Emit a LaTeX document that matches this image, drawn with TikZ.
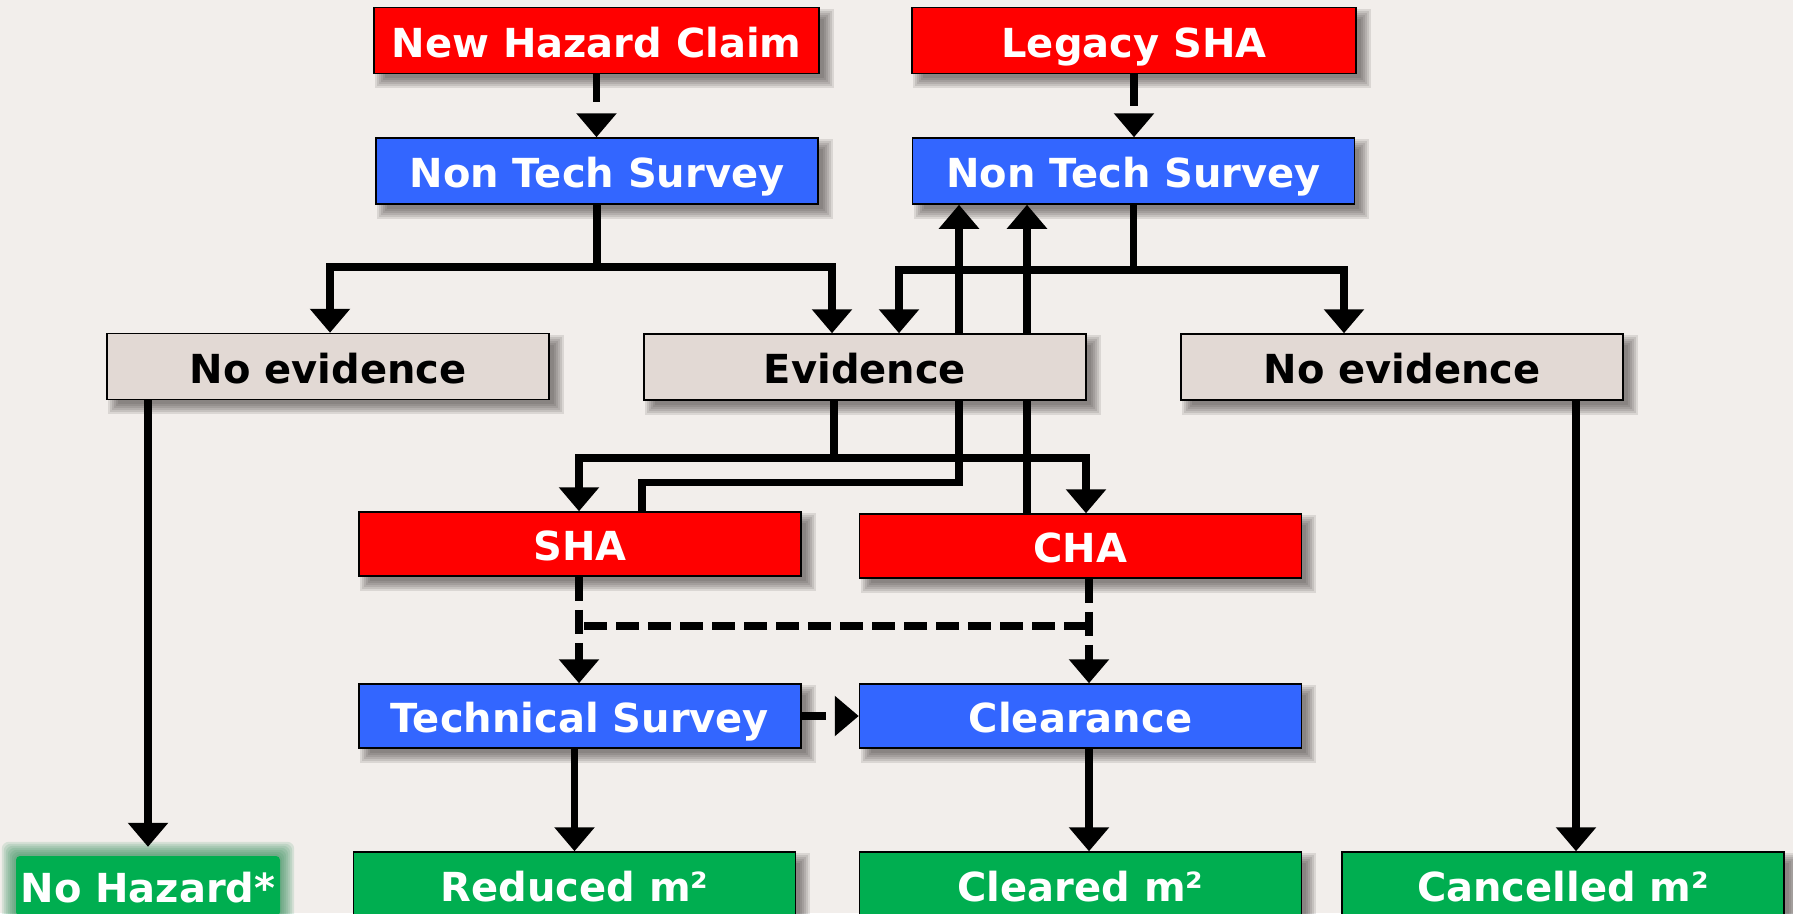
\documentclass[tikz,border=0pt]{standalone}
\usepackage{fontspec}
\setmainfont{DejaVu Sans}
\usetikzlibrary{arrows.meta,calc}
\definecolor{bgc}{HTML}{F2EEEB}
\definecolor{cred}{HTML}{FF0000}
\definecolor{cblue}{HTML}{3366FF}
\definecolor{cgray}{HTML}{E2D9D4}
\definecolor{cgreen}{HTML}{00AE50}
\definecolor{glowc}{HTML}{2E8B57}
\definecolor{shc}{HTML}{3A3533}
\pgfdeclarelayer{bgl}
\pgfdeclarelayer{shl}
\pgfdeclarelayer{edges}
\pgfsetlayers{bgl,shl,edges,main}
\begin{document}
\begin{tikzpicture}[x=1pt,y=-1pt,
  box/.style={draw=black, line width=1.5pt, minimum width=442pt, minimum height=66pt,
    inner sep=0pt, text height=35pt, text depth=2pt,
    font=\fontsize{40pt}{48pt}\selectfont\bfseries},
  redbox/.style={box, fill=cred, text=white},
  bluebox/.style={box, fill=cblue, text=white},
  graybox/.style={box, fill=cgray, text=black},
  greenbox/.style={box, fill=cgreen, text=white},
  conn/.style={line width=7.5pt, -{Triangle[width=39pt,length=24pt]}},
  dashconn/.style={conn, dash pattern=on 24pt off 9pt},
  plainline/.style={line width=7.5pt},
  shadowpiece/.style={fill=shc, opacity=0.13},
]
\useasboundingbox (0,0) rectangle (1793,913);
\begin{pgfonlayer}{bgl}
\fill[bgc] (0,0) rectangle (1793,913);
\end{pgfonlayer}

% nodes
\node[redbox, minimum width=445pt] (nhc) at (596.5,40.5) {New Hazard Claim};
\node[redbox, minimum width=444pt] (leg) at (1134,40.5) {Legacy SHA};
\node[bluebox] (ntsl) at (597,171) {Non Tech Survey};
\node[bluebox] (ntsr) at (1133.5,171) {Non Tech Survey};
\node[graybox] (noevl) at (328,366.5) {No evidence};
\node[graybox] (ev) at (865,367) {Evidence};
\node[graybox] (noevr) at (1402,367) {No evidence};
\node[redbox, minimum height=64pt] (sha) at (580,544) {SHA};
\node[redbox, minimum height=64pt] (cha) at (1080.5,546) {CHA};
\node[bluebox, minimum height=64pt] (ts) at (580,716) {Technical Survey};
\node[bluebox, minimum height=64pt] (clr) at (1080.5,716) {Clearance};
\node[greenbox] (red) at (574.5,885) {Reduced m²};
\node[greenbox] (clrd) at (1080.5,885) {Cleared m²};
\node[greenbox] (canc) at (1563,885) {Cancelled m²};
\node[fill=cgreen, text=white, minimum width=264pt, minimum height=60pt, inner sep=0pt,
  text height=35pt, text depth=2pt, rounded corners=4pt,
  font=\fontsize{40pt}{48pt}\selectfont\bfseries] (nohaz) at (148,886) {No Hazard*};

% soft drop shadows
\begin{pgfonlayer}{shl}
\foreach \n in {nhc,leg,ntsl,ntsr,noevl,ev,noevr,sha,cha,ts,clr,red,clrd,canc}
  \foreach \s in {-4,-2,0,2,4,6}
    \fill[shadowpiece]
      ($(\n.north west)+(8-\s,8-\s)$) rectangle ($(\n.south east)+(8+\s,8+\s)$);
% glow round No Hazard*
\foreach \r in {2,4,...,14}
  \fill[glowc, opacity=0.14, rounded corners=7pt]
    ($(nohaz.south west)+(-\r,\r)$) rectangle ($(nohaz.north east)+(\r,-\r)$);
\end{pgfonlayer}

\coordinate (dl) at (579,626);
\coordinate (dr) at (1089,626);

\begin{pgfonlayer}{edges}
\draw[conn, dash pattern=on 28pt off 40pt] (nhc.south) -- (nhc.south |- ntsl.north);
\draw[conn, dash pattern=on 32pt off 40pt] (leg.south) -- (leg.south |- ntsr.north);
\draw[conn] (ntsl.south) -- ++(0,62) -| ([xshift=2pt]noevl.north);
\draw[conn] (ntsl.south) -- ++(0,62) -| ([xshift=-33pt]ev.north);
\draw[conn] (ntsr.south) -- ++(0,65) -| ([xshift=34pt]ev.north);
\draw[conn] (ntsr.south) -- ++(0,65) -| ([xshift=-58pt]noevr.north);
\draw[conn] ([xshift=62pt]sha.north) -- ++(0,-29) -| ([xshift=-174.5pt]ntsr.south);
\draw[conn] ([xshift=-53.5pt]cha.north) -- ([xshift=-106.5pt]ntsr.south);
\draw[conn] ([xshift=-31pt]ev.south) -- ++(0,57) -| ([xshift=-1pt]sha.north);
\draw[conn] ([xshift=-31pt]ev.south) -- ++(0,57) -| ([xshift=5.5pt]cha.north);
\draw[dashconn] ([xshift=-1pt]sha.south) -- ([xshift=-1pt]ts.north);
\draw[dashconn] ([xshift=8.5pt]cha.south) -- ([xshift=8.5pt]clr.north);
\draw[plainline, dash pattern=on 23pt off 9pt, dash phase=-5pt] (dl) -- (dr);
\draw[dashconn] (ts.east) -- (clr.west);
\draw[conn] (ts.south -| red.north) -- (red.north);
\draw[conn] ([xshift=8.5pt]clr.south) -- ([xshift=8.5pt]clrd.north);
\draw[conn] (noevl.south -| nohaz.north) -- ([yshift=9pt]nohaz.north);
\draw[conn] ([xshift=174pt]noevr.south) -- ([xshift=13pt]canc.north);
\end{pgfonlayer}
\end{tikzpicture}
\end{document}
